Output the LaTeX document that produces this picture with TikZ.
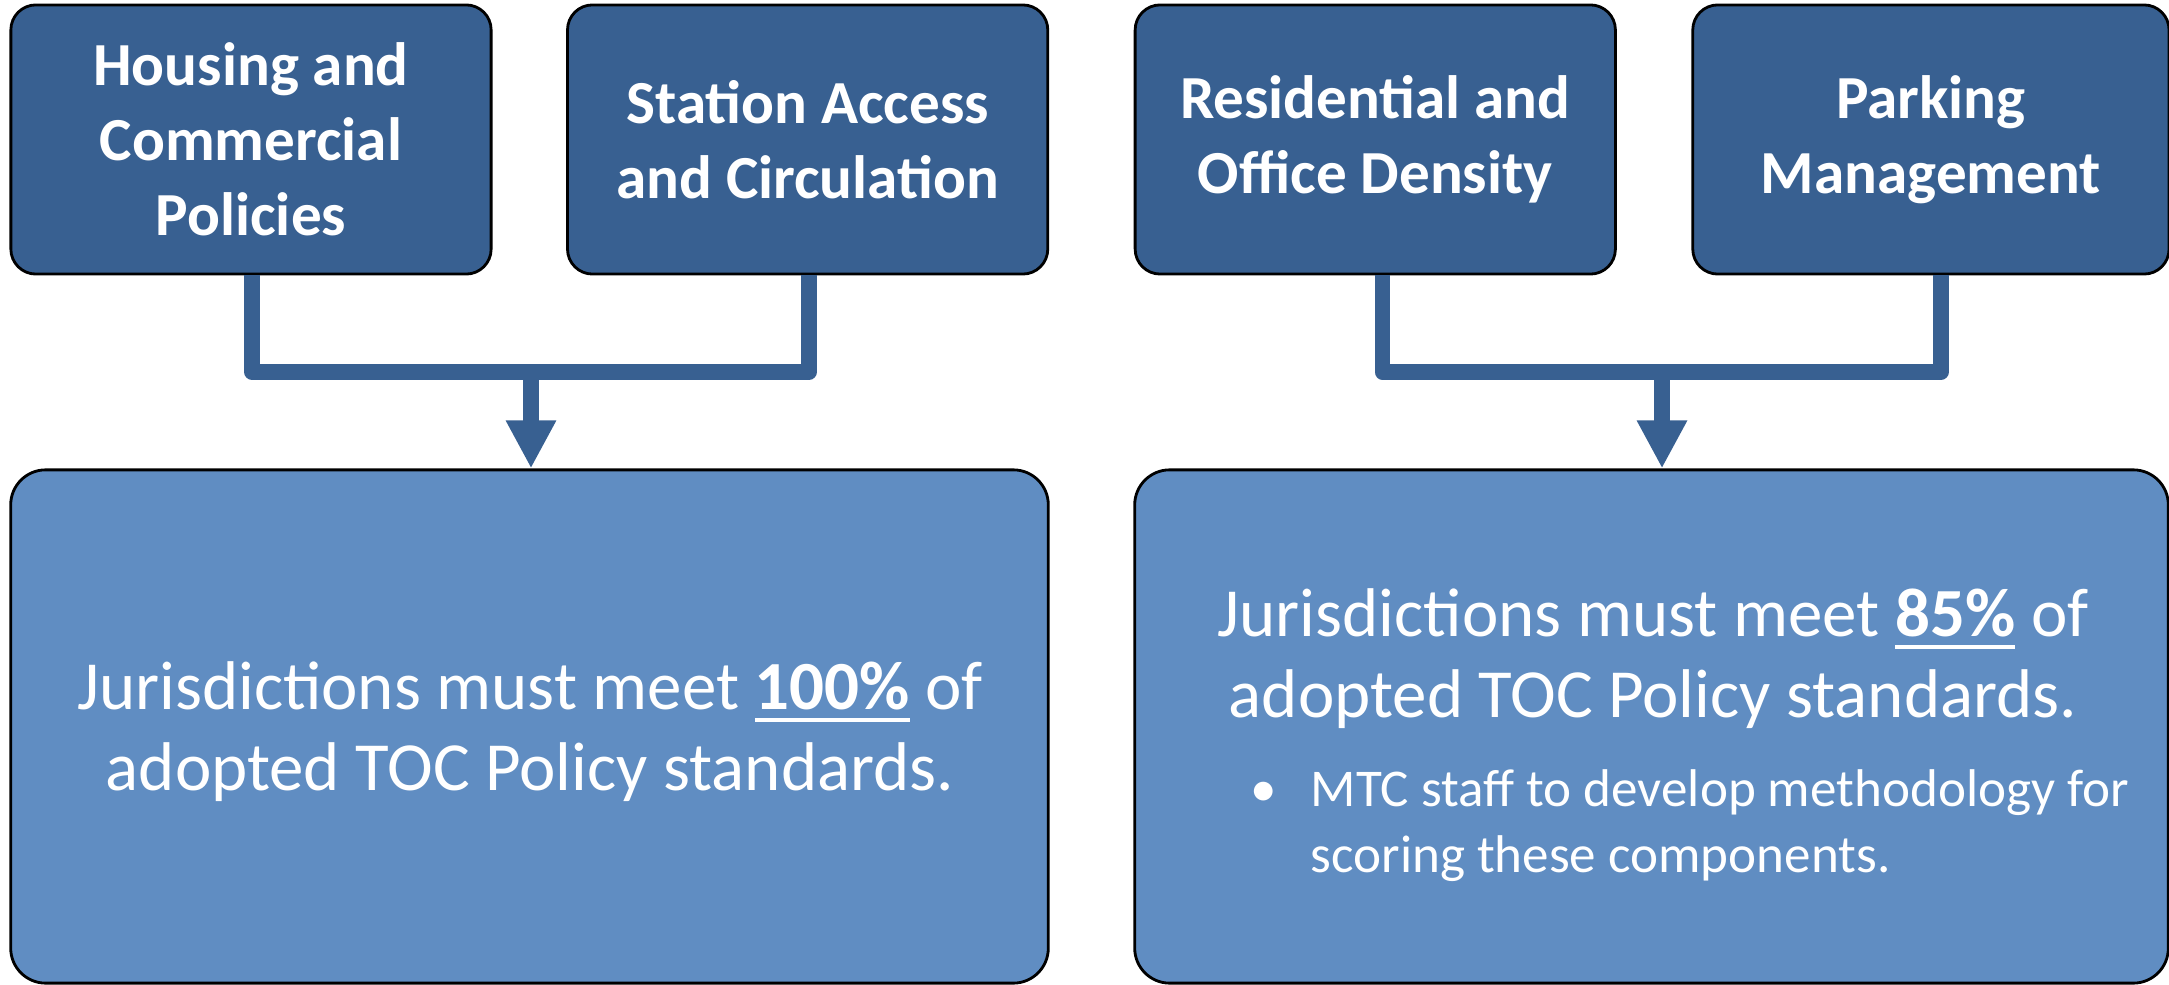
\documentclass[tikz,border=0pt]{standalone}
\usepackage{fontspec}
\setmainfont{Carlito}
\usepackage{tikz}
\usetikzlibrary{positioning,arrows.meta}

\definecolor{boxdark}{RGB}{56,96,145}
\definecolor{boxlight}{RGB}{96,141,194}

\newlength\pctwd
\newcommand{\pctul}[1]{\settowidth{\pctwd}{\textbf{#1}}\textbf{#1}\kern-\pctwd\rule[-0.17em]{\pctwd}{0.05em}}

\begin{document}
\begin{tikzpicture}[
  x=0.01cm, y=-0.01cm,
  topbox/.style={rectangle, draw, line width=0.8pt, rounded corners=0.25cm, fill=boxdark, text=white, align=center, font=\fontsize{17.4}{21.3}\selectfont\bfseries, minimum width=4.8cm, minimum height=2.69cm, inner sep=0pt},
  goalbox/.style={rectangle, draw, line width=0.8pt, rounded corners=0.35cm, fill=boxlight, minimum height=5.13cm, inner sep=0pt},
  goaltext/.style={text=white, align=center, font=\fontsize{19.6}{22.8}\selectfont, inner sep=0pt},
  note/.style={text=white, align=left, font=\fontsize{15.1}{18.5}\selectfont, inner sep=0pt},
  link/.style={draw=boxdark, line width=0.155cm, line join=round},
  arrow/.style={link, -{Triangle[width=0.47cm,length=0.48cm]}}
]
  \useasboundingbox (0,0) rectangle (2169,985);

  % policy components
  \node[topbox] (hcp) at (251,139.5) {Housing and\\Commercial\\Policies};
  \node[topbox, right=0.735cm of hcp] (sac) {Station Access\\and Circulation};
  \node[topbox, right=0.845cm of sac] (rod) {Residential and\\Office Density};
  \node[topbox, right=0.745cm of rod, minimum width=4.76cm] (pkm) {Parking\\Management};

  % thresholds
  \node[goalbox, minimum width=10.37cm] (toc100) at (529.5,726.5) {};
  \node[goaltext, anchor=base] (req100) at (530,790)
    {Jurisdictions must meet \pctul{100\%} of\\adopted TOC Policy standards.};
  \node[goalbox, minimum width=10.33cm] (toc85) at (1651.5,726.5) {};
  \node[goaltext, anchor=base] (req85) at (1653,717)
    {Jurisdictions must meet \pctul{85\%} of\\adopted TOC Policy standards.};
  \node[note, anchor=base west] (note85) at (1250,872)
    {\makebox[0.6cm][l]{\textbullet}MTC staff to develop methodology for\\\hspace*{0.6cm}scoring these components.};

  % connectors
  \coordinate (jl) at (531,372);
  \coordinate (jr) at (1662,372);
  \draw[link] ([xshift=0.01cm]hcp.south) |- (jl);
  \draw[link] ([xshift=0.015cm]sac.south) |- (jl);
  \draw[arrow] (jl) -- (toc100.north -| jl);
  \draw[link] ([xshift=0.07cm]rod.south) |- (jr);
  \draw[link] ([xshift=0.1cm]pkm.south) |- (jr);
  \draw[arrow] (jr) -- (toc85.north -| jr);
\end{tikzpicture}
\end{document}
